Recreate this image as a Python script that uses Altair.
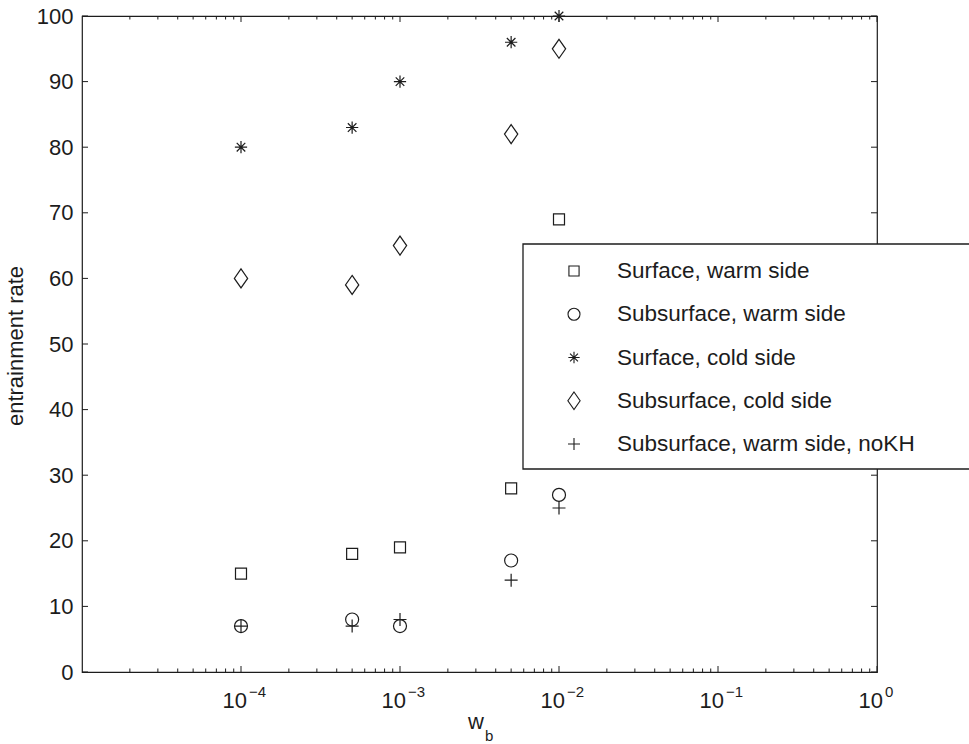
import altair as alt
import pandas as pd

# ---- data -------------------------------------------------------------
wb = [1e-4, 5e-4, 1e-3, 5e-3, 1e-2]
surface_warm = [15, 18, 19, 28, 69]
subsurface_warm = [7, 8, 7, 17, 27]
surface_cold = [80, 83, 90, 96, 100]
subsurface_cold = [60, 59, 65, 82, 95]
subsurface_warm_nokh = [7, 7, 8, 14, 25]

series_labels = [
    "Surface, warm side",
    "Subsurface, warm side",
    "Surface, cold side",
    "Subsurface, cold side",
    "Subsurface, warm side, noKH",
]
series_values = [surface_warm, subsurface_warm, surface_cold,
                 subsurface_cold, subsurface_warm_nokh]

y_ticks = list(range(0, 101, 10))
decades = [1e-4, 1e-3, 1e-2, 1e-1, 1e0]
decade_exponents = ["\u22124", "\u22123", "\u22122", "\u22121", "0"]
minor_ticks = [m * 10.0 ** e for e in range(-5, 0) for m in range(2, 10)]

# ---- style ------------------------------------------------------------
W, H = 795, 656
FONT = "Liberation Sans"
INK = "#1c1c1c"

# MATLAB-like open markers: (svg path in unit box, symbol size)
marker_styles = [
    ("M-1,-1H1V1H-1Z", 121),                                   # square
    ("circle", 169),                                           # circle
    ("M-1,0H1M0,-1V1M-0.7,-0.7L0.7,0.7M-0.7,0.7L0.7,-0.7", 150),  # asterisk
    ("M0,-1L0.7,0L0,1L-0.7,0Z", 361),                          # diamond
    ("M-1,0H1M0,-1V1", 169),                                   # plus
]

xscale = alt.Scale(type="log", domain=[1e-5, 1], nice=False)
yscale = alt.Scale(domain=[0, 100], nice=False, zero=False)
yaxis = alt.Axis(values=y_ticks, title=None, ticks=False, tickSize=0,
                 domain=False, grid=False, labelPadding=9,
                 labelFont=FONT, labelFontSize=22, labelColor=INK)


def X(field):
    return alt.X(field, type="quantitative", scale=xscale, axis=None)


def Y(field):
    return alt.Y(field, type="quantitative", scale=yscale, axis=yaxis)


layers = []

# ---- inward tick marks on all four sides --------------------------------
ydf = pd.DataFrame({"v": y_ticks})
layers.append(alt.Chart(ydf).mark_rule(color=INK, strokeWidth=1).encode(
    y=Y("v"), x=alt.value(0), x2=alt.value(6)))
layers.append(alt.Chart(ydf).mark_rule(color=INK, strokeWidth=1).encode(
    y=Y("v"), x=alt.value(W - 6), x2=alt.value(W)))

xmaj = pd.DataFrame({"v": decades})
xmin = pd.DataFrame({"v": minor_ticks})
for df, length in ((xmaj, 6), (xmin, 3.5)):
    layers.append(alt.Chart(df).mark_rule(color=INK, strokeWidth=1).encode(
        x=X("v"), y=alt.value(H), y2=alt.value(H - length)))
    layers.append(alt.Chart(df).mark_rule(color=INK, strokeWidth=1).encode(
        x=X("v"), y=alt.value(0), y2=alt.value(length)))

# ---- data markers -------------------------------------------------------
for label, values, (shape, size) in zip(series_labels, series_values, marker_styles):
    df = pd.DataFrame({"wb": wb, "rate": values, "series": label})
    layers.append(alt.Chart(df).mark_point(
        filled=False, stroke=INK, strokeWidth=1.2, opacity=1
    ).encode(x=X("wb"), y=Y("rate"), shape=alt.value(shape), size=alt.value(size)))

# ---- x tick labels: 10 with superscript exponent -------------------------
xlab = pd.DataFrame({"v": decades, "exp": decade_exponents, "base": ["10"] * len(decades)})
layers.append(alt.Chart(xlab).mark_text(
    font=FONT, fontSize=22, color=INK, align="right", baseline="alphabetic", dx=6
).encode(x=X("v"), y=alt.value(H + 36), text="base:N"))
layers.append(alt.Chart(xlab).mark_text(
    font=FONT, fontSize=15, color=INK, align="left", baseline="alphabetic", dx=8
).encode(x=X("v"), y=alt.value(H + 25), text="exp:N"))

# ---- axis titles --------------------------------------------------------
one = pd.DataFrame({"t": ["w"]})
layers.append(alt.Chart(one).mark_text(
    font=FONT, fontSize=22, color=INK, align="left", baseline="alphabetic"
).encode(x=alt.value(386), y=alt.value(H + 57), text="t:N"))
sub = pd.DataFrame({"t": ["b"]})
layers.append(alt.Chart(sub).mark_text(
    font=FONT, fontSize=15, color=INK, align="left", baseline="alphabetic"
).encode(x=alt.value(403), y=alt.value(H + 69), text="t:N"))
ytitle = pd.DataFrame({"t": ["entrainment rate"]})
layers.append(alt.Chart(ytitle).mark_text(
    font=FONT, fontSize=22, color=INK, align="center", baseline="middle", angle=270
).encode(x=alt.value(-66), y=alt.value(330), text="t:N"))

# ---- legend box ---------------------------------------------------------
box = pd.DataFrame({"a": [0]})
layers.append(alt.Chart(box).mark_rect(
    fill="white", stroke=INK, strokeWidth=1.3
).encode(x=alt.value(441), x2=alt.value(980), y=alt.value(228), y2=alt.value(453)))

for i, (label, (shape, size)) in enumerate(zip(series_labels, marker_styles)):
    row_y = 255 + 43.25 * i
    lg = pd.DataFrame({"t": [label]})
    layers.append(alt.Chart(lg).mark_point(
        filled=False, stroke=INK, strokeWidth=1.1, opacity=1
    ).encode(x=alt.value(492), y=alt.value(row_y),
             shape=alt.value(shape), size=alt.value(size * 0.85)))
    layers.append(alt.Chart(lg).mark_text(
        font=FONT, fontSize=22.5, color=INK, align="left", baseline="middle"
    ).encode(x=alt.value(535), y=alt.value(row_y), text="t:N"))

chart = alt.layer(*layers).properties(
    width=W,
    height=H,
    padding={"left": 82, "top": 16, "right": 92, "bottom": 72},
    autosize=alt.AutoSizeParams(type="none"),
    background="white",
).configure_view(stroke=INK, strokeWidth=1.2)

chart.save("out.html", embed_options={"renderer": "svg", "actions": False})
